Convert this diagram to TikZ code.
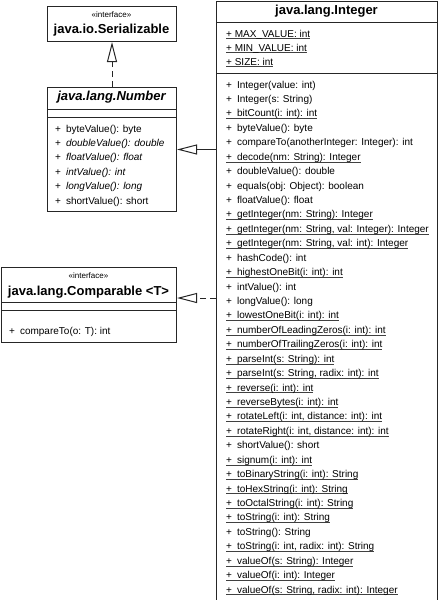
\documentclass[tikz,border=0pt]{standalone}
\usepackage{fontspec}
\setmainfont{Liberation Sans}
\usetikzlibrary{arrows.meta}
\newcommand\plainop[1]{+\hspace{5pt}#1}
\newcommand\abstractop[1]{+\hspace{5pt}\textit{#1}}
\newcommand\staticop[1]{\setbox0\hbox{\plainop{#1}}\rlap{\color{black!75}\rule[-2pt]{\wd0}{0.6pt}}\box0}
\newcommand\staticattr[1]{\setbox0\hbox{+ #1}\rlap{\color{black!75}\rule[-2pt]{\wd0}{0.6pt}}\box0}

\begin{document}
\begin{tikzpicture}[x=1pt,y=-1pt,
  classbox/.style={draw=black!85, line width=1pt, anchor=north west, inner sep=0pt},
  divider/.style={draw=black!85, line width=1pt},
  member/.style={anchor=base west, inner sep=0pt, font=\fontsize{10}{12}\selectfont},
  classname/.style={inner sep=0pt, font=\fontsize{13}{15}\selectfont\bfseries},
  stereo/.style={inner sep=0pt, font=\fontsize{8}{9}\selectfont},
  realize/.style={draw=black!85, line width=1pt, dash pattern=on 6pt off 4pt, -{Triangle[open, length=20pt, width=10pt]}},
  extend/.style={draw=black!85, line width=1pt, -{Triangle[open, length=20pt, width=10pt]}}]
\useasboundingbox (0,0) rectangle (438,600);

% java.io.Serializable
\node[classbox, minimum width=129pt, minimum height=35pt] (serial) at (47,6) {};
\node[stereo] (serialst) at (111.5,15) {«interface»};
\node[classname] (serialname) at (111.5,30) {java.io.Serializable};

% java.lang.Number
\node[classbox, minimum width=129pt, minimum height=124pt] (number) at (47,87) {};
\draw[divider] (47,109) -- (176,109) (47,117) -- (176,117);
\node[classname, font=\fontsize{13}{15}\selectfont\bfseries\itshape] (numbername) at (111.5,97) {java.lang.Number};
\foreach \op [count=\n] in {{\plainop{byteValue(): byte}}, {\abstractop{doubleValue(): double}},
  {\abstractop{floatValue(): float}}, {\abstractop{intValue(): int}},
  {\abstractop{longValue(): long}}, {\plainop{shortValue(): short}}}
  \node[member] (numop\n) at (55,{132+14.4*(\n-1)}) {\op};

% java.lang.Comparable
\node[classbox, minimum width=175pt, minimum height=75pt] (comparable) at (1,267) {};
\draw[divider] (1,302) -- (176,302) (1,310) -- (176,310);
\node[stereo] (cmpst) at (88.5,276) {«interface»};
\node[classname] (cmpname) at (88.5,292) {java.lang.Comparable <T>};
\node[member] (cmpop) at (9,334) {\plainop{compareTo(o: T): int}};

% java.lang.Integer
\node[classbox, minimum width=221pt, minimum height=599pt] (integer) at (216,0.5) {};
\draw[divider] (216,22) -- (437,22) (216,73) -- (437,73);
\node[classname] (intname) at (326.5,11.5) {java.lang.Integer};
\foreach \at [count=\n] in {MAX\_VALUE: int, MIN\_VALUE: int, SIZE: int}
  \node[member] (intattr\n) at (226,{37+14*(\n-1)}) {\staticattr{\at}};
\foreach \op [count=\n] in {
  {\plainop{Integer(value: int)}}, {\plainop{Integer(s: String)}},
  {\staticop{bitCount(i: int): int}}, {\plainop{byteValue(): byte}},
  {\plainop{compareTo(anotherInteger: Integer): int}}, {\staticop{decode(nm: String): Integer}},
  {\plainop{doubleValue(): double}}, {\plainop{equals(obj: Object): boolean}},
  {\plainop{floatValue(): float}}, {\staticop{getInteger(nm: String): Integer}},
  {\staticop{getInteger(nm: String, val: Integer): Integer}}, {\staticop{getInteger(nm: String, val: int): Integer}},
  {\plainop{hashCode(): int}}, {\staticop{highestOneBit(i: int): int}},
  {\plainop{intValue(): int}}, {\plainop{longValue(): long}},
  {\staticop{lowestOneBit(i: int): int}}, {\staticop{numberOfLeadingZeros(i: int): int}},
  {\staticop{numberOfTrailingZeros(i: int): int}}, {\staticop{parseInt(s: String): int}},
  {\staticop{parseInt(s: String, radix: int): int}}, {\staticop{reverse(i: int): int}},
  {\staticop{reverseBytes(i: int): int}}, {\staticop{rotateLeft(i: int, distance: int): int}},
  {\staticop{rotateRight(i: int, distance: int): int}}, {\plainop{shortValue(): short}},
  {\staticop{signum(i: int): int}}, {\staticop{toBinaryString(i: int): String}},
  {\staticop{toHexString(i: int): String}}, {\staticop{toOctalString(i: int): String}},
  {\staticop{toString(i: int): String}}, {\plainop{toString(): String}},
  {\staticop{toString(i: int, radix: int): String}}, {\staticop{valueOf(s: String): Integer}},
  {\staticop{valueOf(i: int): Integer}}, {\staticop{valueOf(s: String, radix: int): Integer}}}
  \node[member] (intop\n) at (226,{88+14.43*(\n-1)}) {\op};

% relations
\draw[realize] (number.north) -- (serial.south);
\draw[extend] (integer.west |- number.east) -- (number.east);
\coordinate (cmpjoin) at (216,298);
\draw[realize] (cmpjoin) -- (comparable.east |- cmpjoin);
\end{tikzpicture}
\end{document}
